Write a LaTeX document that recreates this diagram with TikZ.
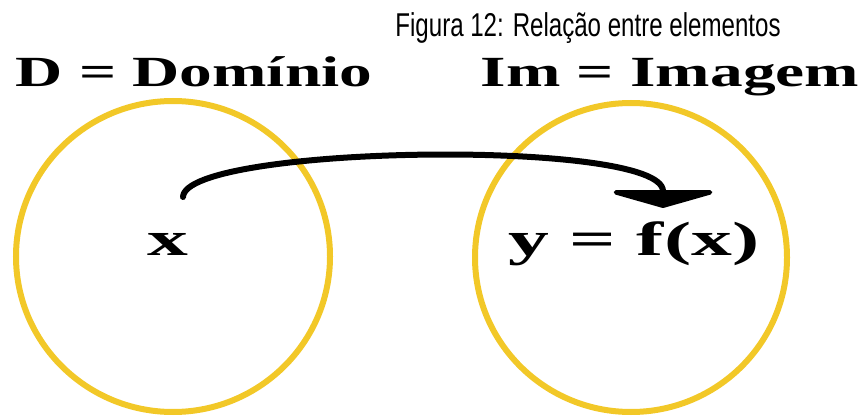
\documentclass[tikz,border=0pt]{standalone}
\usepackage{fontspec}
\usetikzlibrary{arrows.meta}
\newfontfamily\figtitlefont[FakeStretch=0.73]{Liberation Sans}
\newfontfamily\setheadfont[FakeStretch=1.52]{Liberation Serif}
\newfontfamily\setvalfont[FakeStretch=1.7]{Liberation Serif}
\definecolor{setgold}{RGB}{242,200,40}

\begin{document}
\begin{tikzpicture}[x=1pt,y=1pt,
  figtitle/.style={anchor=base, inner sep=0pt, font=\figtitlefont\fontsize{33pt}{33pt}\selectfont},
  setname/.style={anchor=base, inner sep=0pt, font=\setheadfont\bfseries\fontsize{43pt}{43pt}\selectfont},
  setval/.style={anchor=base, inner sep=0pt, font=\setvalfont\bfseries\fontsize{48pt}{48pt}\selectfont},
  setline/.style={draw=setgold, line width=6pt},
  maparrow/.style={line width=6pt, line cap=round, -{Triangle[width=126pt,length=18pt,round]}}]
\useasboundingbox (0,0) rectangle (864,418);

\node[figtitle] (title) at (588,381) {Figura 12: Relação entre elementos};
\node[setname] (dom) at (194,331) {D = Domínio};
\node[setname] (img) at (670,331) {Im = Imagem};

\draw[setline] (173,161.5) ellipse [x radius=157pt, y radius=155.5pt];
\draw[setline] (631,160.5) ellipse [x radius=156pt, y radius=154.5pt];

\node[setval] (xval) at (168,163) {x};
\node[setval] (yval) at (634,163) {y = f(x)};

\draw[maparrow] ([shift={(15,58)}]xval.base) .. controls +(2,52) and +(0,70) .. ([shift={(29,47)}]yval.base);
\end{tikzpicture}
\end{document}
